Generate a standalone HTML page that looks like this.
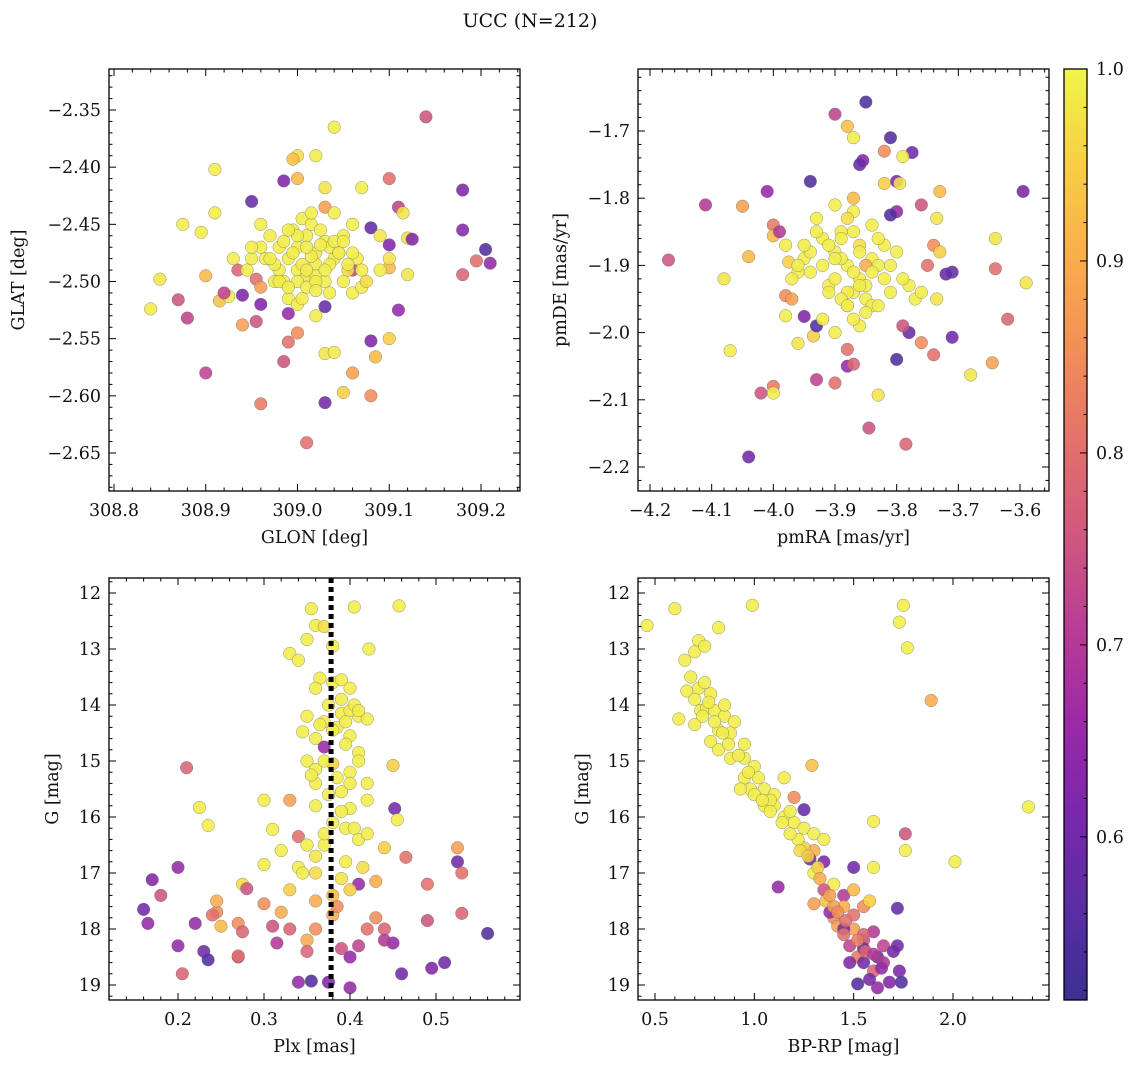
<!DOCTYPE html>
<html><head><meta charset="utf-8"><style>
body{margin:0;background:#fff;}
svg text{font-family:"DejaVu Serif","Liberation Serif",serif;fill:#111;}
</style></head><body>
<svg id="fig" width="1136" height="1068" viewBox="0 0 1136 1068" xmlns="http://www.w3.org/2000/svg">
<text x="530" y="27" font-size="19" text-anchor="middle">UCC (N=212)</text>
<defs>
<linearGradient id="cbg" x1="0" y1="1" x2="0" y2="0">
<stop offset="0" stop-color="#3b2f91"/><stop offset="0.1" stop-color="#5a2ea3"/><stop offset="0.2" stop-color="#7a27ab"/><stop offset="0.3" stop-color="#9b2aa6"/><stop offset="0.4" stop-color="#b93d94"/><stop offset="0.5" stop-color="#d0587e"/><stop offset="0.6" stop-color="#e3726a"/><stop offset="0.7" stop-color="#f28f58"/><stop offset="0.8" stop-color="#f9ae4b"/><stop offset="0.9" stop-color="#f8cf44"/><stop offset="1" stop-color="#eff54a"/>
</linearGradient>
</defs>
</svg>
<script>
// ---- data ----
const tlX=[309.04,309.14,308.91,309.0,308.995,309.02,309.0,308.985,309.03,309.07,309.1,309.18,308.95,309.03,309.11,309.115,308.91,308.875,308.96,309.06,309.08,309.09,309.12,309.125,309.18,308.895,309.205,309.21,309.195,309.18,309.12,309.1,309.1,309.1,308.85,308.87,308.84,308.88,308.9,308.915,308.925,308.92,308.935,308.94,308.955,308.96,308.96,308.955,308.94,308.9,308.96,308.985,308.99,309.0,309.01,309.03,309.05,309.06,309.08,309.085,309.08,309.1,309.11,309.03,309.04,309.02,309.03,308.99,309.06,309.05,309.07,309.06,
308.97,308.98,308.99,309.0,309.01,309.02,309.03,309.04,309.0,308.98,309.01,309.02,308.995,309.005,309.015,309.025,309.035,309.045,308.965,308.975,309.05,309.055,308.985,309.0,309.01,309.02,309.03,308.96,309.04,308.95,309.065,308.99,309.0,309.015,
308.975,308.985,308.995,309.005,309.015,309.025,309.035,308.98,308.99,309.0,309.01,309.02,309.03,309.045,309.055,308.97,309.06,309.07,309.075,308.95,308.945,309.035,309.005,308.99,309.04,309.02,309.01,309.05,309.09,308.93];
const tlY=[-2.365,-2.356,-2.402,-2.39,-2.393,-2.39,-2.41,-2.412,-2.418,-2.418,-2.41,-2.42,-2.43,-2.435,-2.435,-2.44,-2.44,-2.45,-2.45,-2.45,-2.453,-2.46,-2.462,-2.463,-2.455,-2.457,-2.472,-2.484,-2.482,-2.494,-2.494,-2.468,-2.488,-2.48,-2.498,-2.516,-2.524,-2.532,-2.495,-2.517,-2.513,-2.51,-2.49,-2.512,-2.498,-2.505,-2.52,-2.535,-2.538,-2.58,-2.607,-2.57,-2.553,-2.545,-2.641,-2.606,-2.597,-2.58,-2.6,-2.566,-2.552,-2.55,-2.525,-2.563,-2.562,-2.53,-2.522,-2.528,-2.51,-2.5,-2.505,-2.49,
-2.46,-2.47,-2.48,-2.47,-2.46,-2.475,-2.465,-2.48,-2.49,-2.49,-2.495,-2.485,-2.455,-2.445,-2.45,-2.455,-2.47,-2.475,-2.48,-2.5,-2.46,-2.49,-2.5,-2.5,-2.505,-2.495,-2.5,-2.47,-2.44,-2.48,-2.48,-2.515,-2.52,-2.44,
-2.485,-2.465,-2.475,-2.485,-2.478,-2.468,-2.485,-2.5,-2.505,-2.46,-2.49,-2.5,-2.49,-2.475,-2.485,-2.48,-2.475,-2.49,-2.5,-2.47,-2.49,-2.51,-2.515,-2.455,-2.465,-2.508,-2.47,-2.465,-2.49,-2.48];
const tlP=[.99,.75,.99,.97,.93,.99,.92,.62,.98,.99,.8,.62,.58,.88,.72,.98,.99,.99,.99,.99,.58,.98,.97,.62,.63,.99,.55,.65,.8,.78,.98,.62,.92,.98,.98,.75,.99,.72,.92,.93,.99,.72,.78,.62,.8,.88,.62,.75,.88,.72,.82,.75,.8,.85,.8,.6,.95,.88,.85,.92,.62,.95,.65,.98,.99,.99,.58,.65,.99,.99,.99,.72,
.99,.99,.99,.99,.99,.99,.99,.99,.99,.99,.98,.99,.99,.99,.99,.99,.99,.99,.99,.99,.99,.97,.99,.99,.99,.99,.99,.99,.99,.99,.99,.99,.99,.99,
.99,.99,.99,.99,.99,.99,.99,.99,.99,.99,.99,.99,.99,.99,.99,.99,.99,.99,.97,.99,.99,.99,.99,.99,.99,.99,.99,.99,.99,.99];

const trX=[-3.85,-3.9,-3.88,-3.87,-3.81,-3.82,-3.775,-3.79,-3.855,-3.86,-3.94,-3.8,-3.795,-3.82,-4.01,-4.11,-4.05,-3.73,-3.595,-3.8,-3.76,-3.81,-3.735,-3.87,-4.17,-4.08,-4.04,-4.0,-4.0,-3.99,-3.64,-3.64,-3.59,-3.71,-3.72,-3.75,-3.74,-3.73,-3.735,-3.62,-3.71,-3.74,-3.68,-3.645,-3.76,-3.78,-3.79,-3.8,-3.785,-3.83,-3.845,-3.88,-3.88,-3.87,-3.9,-3.93,-3.935,-3.96,-3.95,-3.93,-4.07,-4.0,-4.0,-4.02,-4.04,-3.98,-3.98,-3.97,-3.975,
-3.9,-3.88,-3.86,-3.84,-3.82,-3.92,-3.94,-3.87,-3.85,-3.83,-3.89,-3.91,-3.86,-3.84,-3.8,-3.78,-3.93,-3.95,-3.88,-3.86,-3.82,-3.9,-3.87,-3.85,-3.84,-3.96,-3.92,-3.81,-3.89,-3.77,
-3.91,-3.89,-3.87,-3.85,-3.88,-3.86,-3.9,-3.92,-3.94,-3.83,-3.81,-3.79,-3.87,-3.89,-3.85,-3.93,-3.95,-3.97,-3.91,-3.88,-3.86,-3.84,-3.9,-3.88,-3.76,-3.98,-3.96,-3.83,-3.87,-3.9];
const trY=[-1.657,-1.675,-1.693,-1.71,-1.71,-1.73,-1.732,-1.738,-1.744,-1.75,-1.775,-1.775,-1.778,-1.778,-1.79,-1.81,-1.812,-1.79,-1.79,-1.82,-1.81,-1.825,-1.83,-1.8,-1.892,-1.92,-1.887,-1.84,-1.856,-1.85,-1.86,-1.905,-1.926,-1.91,-1.913,-1.9,-1.87,-1.88,-1.95,-1.98,-2.007,-2.033,-2.063,-2.045,-2.015,-2.0,-1.99,-2.04,-2.166,-2.093,-2.142,-2.05,-2.025,-2.047,-2.075,-2.07,-2.005,-2.016,-1.976,-1.99,-2.027,-2.08,-2.09,-2.09,-2.185,-1.975,-1.945,-1.95,-1.895,
-1.88,-1.9,-1.92,-1.89,-1.87,-1.86,-1.91,-1.94,-1.95,-1.9,-1.85,-1.93,-1.87,-1.84,-1.88,-1.93,-1.83,-1.89,-1.96,-1.99,-1.92,-1.81,-1.82,-1.9,-1.96,-1.91,-1.98,-1.94,-1.86,-1.95,
-1.87,-1.89,-1.91,-1.93,-1.94,-1.88,-1.92,-1.9,-1.88,-1.86,-1.9,-1.92,-1.85,-1.95,-1.97,-1.85,-1.87,-1.92,-1.94,-1.96,-1.93,-1.91,-1.89,-1.83,-1.94,-1.87,-1.9,-1.96,-1.98,-2.0];
const trP=[.55,.72,.93,.99,.55,.85,.6,.99,.62,.58,.55,.62,.98,.95,.65,.7,.88,.92,.6,.65,.75,.55,.98,.92,.75,.98,.92,.82,.92,.7,.98,.8,.98,.58,.58,.8,.85,.95,.98,.78,.6,.8,.98,.88,.85,.58,.75,.55,.78,.98,.75,.65,.8,.78,.8,.72,.95,.98,.62,.55,.99,.82,.99,.75,.6,.99,.85,.88,.95,
.99,.99,.99,.99,.99,.99,.99,.99,.99,.99,.99,.99,.97,.99,.99,.99,.99,.99,.99,.99,.99,.99,.99,.9,.99,.99,.99,.99,.99,.99,
.99,.99,.99,.99,.99,.99,.99,.99,.99,.99,.99,.99,.99,.99,.99,.99,.99,.99,.99,.99,.99,.99,.99,.97,.99,.99,.99,.99,.99,.99];

const blX=[0.355,0.405,0.457,0.36,0.37,0.35,0.38,0.33,0.34,0.422,0.365,0.38,0.39,0.4,0.36,0.375,0.39,0.41,0.42,0.345,0.36,0.37,0.4,0.41,0.35,0.36,0.38,0.4,0.42,0.45,0.21,0.3,0.33,0.36,0.4,0.42,0.452,0.455,0.225,0.235,0.31,0.34,0.35,0.32,0.37,0.41,0.42,0.44,0.465,0.525,0.525,0.53,0.3,0.34,0.36,0.39,0.41,0.43,0.2,0.17,0.18,0.16,0.165,0.2,0.205,0.22,0.23,0.235,0.245,0.24,0.245,0.25,0.27,0.275,0.27,0.275,0.28,0.3,0.32,0.33,0.35,0.35,0.36,0.38,0.39,0.4,0.41,0.42,0.43,0.44,0.45,0.46,0.49,0.495,0.51,0.53,0.56,0.34,0.355,0.375,0.4,0.44,0.31,0.27,0.385,0.315,0.49,
0.39,0.4,0.37,0.385,0.395,0.405,0.36,0.375,0.39,0.41,0.38,0.395,
0.35,0.365,0.38,0.395,0.41,0.37,0.385,0.4,0.355,0.39,0.405,0.37,0.36,0.345,0.395,0.415,0.33,0.38,0.36,0.4];
const blY=[12.28,12.25,12.23,12.58,12.6,12.83,12.95,13.08,13.2,13.0,13.52,13.6,13.55,13.7,13.7,14.0,14.15,14.2,14.25,14.48,14.6,14.75,14.55,14.85,15.0,15.15,15.05,15.2,15.4,15.08,15.12,15.7,15.7,15.8,15.85,15.7,15.85,16.05,15.83,16.15,16.22,16.35,16.5,16.6,16.5,16.4,16.3,16.55,16.72,16.55,16.8,17.0,16.85,16.9,17.0,17.1,17.2,17.15,16.9,17.12,17.4,17.65,17.9,18.3,18.8,17.9,18.4,18.55,17.7,17.75,17.5,17.95,17.9,18.05,18.5,17.2,17.28,17.55,17.7,18.0,18.2,18.4,18.0,17.75,18.35,18.5,18.3,18.0,17.8,18.0,18.25,18.8,17.85,18.7,18.6,17.72,18.08,18.95,18.93,18.95,19.05,18.2,17.95,18.48,17.6,18.25,17.2,
13.9,14.1,14.3,14.4,14.7,14.0,15.4,15.6,15.55,15.0,16.1,16.2,
14.2,14.35,14.45,14.3,14.1,15.0,15.3,15.4,15.25,15.9,16.2,16.3,16.7,17.0,16.8,16.9,17.3,17.4,17.5,17.3];
const blP=[.99,.99,.99,.99,.97,.99,.99,.99,.99,.99,.99,.99,.99,.99,.99,.99,.99,.99,.99,.99,.99,.65,.99,.99,.99,.99,.95,.99,.99,.95,.78,.99,.88,.99,.99,.99,.6,.99,.99,.99,.99,.8,.99,.99,.99,.99,.99,.95,.8,.88,.6,.8,.99,.99,.97,.98,.65,.9,.65,.62,.75,.6,.65,.65,.78,.65,.6,.55,.85,.8,.9,.92,.85,.78,.75,.97,.75,.85,.9,.78,.9,.78,.85,.9,.75,.65,.72,.8,.85,.78,.65,.6,.75,.62,.6,.78,.55,.65,.55,.62,.65,.7,.75,.8,.85,.7,.8,
.99,.99,.99,.99,.99,.99,.99,.99,.99,.99,.99,.99,
.99,.99,.99,.99,.99,.99,.99,.99,.99,.99,.99,.99,.98,.99,.99,.97,.95,.92,.9,.95];

const brX=[0.46,0.6,0.99,1.75,1.73,1.77,0.72,0.7,0.75,0.82,0.65,0.68,0.66,0.72,0.75,0.78,0.62,0.7,0.73,0.76,0.8,0.85,0.9,0.82,0.78,0.82,0.88,0.95,0.95,1.0,0.95,0.98,0.93,1.02,1.05,1.1,1.15,1.2,1.29,1.6,1.89,2.38,2.01,1.76,1.76,1.05,1.1,1.15,1.2,1.25,1.25,1.3,1.35,1.3,1.28,1.25,1.35,1.12,1.3,1.4,1.35,1.3,1.5,1.45,1.45,1.4,1.42,1.5,1.5,1.55,1.6,1.58,1.55,1.52,1.55,1.6,1.62,1.65,1.7,1.72,1.72,1.73,1.74,1.68,1.62,1.52,1.6,1.55,1.48,1.45,1.38,1.48,1.65,1.58,1.5,1.36,
0.85,0.88,1.08,1.18,1.22,1.32,1.4,1.45,1.55,
0.7,0.74,0.77,0.8,0.84,0.87,0.92,0.97,1.0,1.04,1.08,1.14,1.18,1.23,1.27,1.33,1.38,1.42,1.46,1.52,1.56,1.6,1.64];
const brY=[12.58,12.28,12.22,12.22,12.52,12.98,12.85,13.05,12.95,12.62,13.2,13.5,13.75,13.7,13.6,13.8,14.25,14.35,14.1,14.05,14.1,14.2,14.3,14.45,14.65,14.8,14.95,14.7,14.95,15.1,15.3,15.5,15.5,15.3,15.5,15.6,15.3,15.65,15.08,16.08,13.92,15.82,16.8,16.3,16.6,15.8,15.8,16.0,16.1,16.2,15.87,16.3,16.4,16.6,16.75,16.55,16.8,17.25,17.0,17.2,17.3,17.55,16.9,17.4,17.6,17.8,17.95,17.75,18.0,17.6,16.9,17.5,18.2,18.5,18.35,18.05,18.5,18.3,18.4,18.3,17.63,18.75,18.95,18.95,19.05,18.98,18.75,18.6,18.3,18.0,17.7,18.6,18.6,18.9,17.3,17.5,
14.0,14.5,15.7,15.9,16.4,16.9,17.6,18.1,18.1,
13.9,14.2,13.95,14.3,14.5,14.7,14.9,15.2,15.6,15.7,15.9,16.1,16.3,16.6,16.7,17.1,17.4,17.7,17.85,18.2,18.4,18.45,18.7];
const brP=[.99,.99,.99,.99,.99,.99,.99,.99,.99,.99,.99,.99,.99,.99,.99,.99,.99,.99,.99,.99,.99,.99,.99,.99,.99,.99,.99,.99,.99,.99,.99,.99,.99,.99,.99,.99,.99,.85,.93,.99,.9,.99,.99,.75,.99,.99,.99,.99,.99,.99,.58,.99,.99,.9,.6,.95,.62,.65,.99,.99,.75,.88,.6,.7,.9,.85,.88,.8,.88,.85,.99,.95,.75,.82,.6,.7,.6,.72,.6,.6,.58,.62,.55,.62,.65,.55,.78,.6,.72,.62,.65,.62,.7,.6,.92,.93,
.99,.99,.99,.99,.99,.95,.88,.8,.78,
.99,.99,.99,.99,.99,.99,.99,.99,.99,.99,.99,.99,.99,.97,.95,.9,.88,.85,.8,.82,.78,.7,.65];

// ---- colormap ----
const stops=[[0,[59,47,145]],[.1,[90,46,163]],[.2,[122,39,171]],[.3,[155,42,166]],[.4,[185,61,148]],[.5,[208,88,126]],[.6,[227,114,106]],[.7,[242,143,88]],[.8,[249,174,75]],[.9,[248,207,68]],[1,[239,245,74]]];
const VMIN=0.515,VMAX=1.0;
function cmap(v){let t=Math.max(0,Math.min(1,(v-VMIN)/(VMAX-VMIN)));for(let i=1;i<stops.length;i++){if(t<=stops[i][0]){const a=stops[i-1],b=stops[i];const f=(t-a[0])/(b[0]-a[0]);const c=a[1].map((x,k)=>Math.round(x+(b[1][k]-x)*f));return `rgb(${c.join(',')})`;}}return 'rgb(239,245,74)';}

const NS='http://www.w3.org/2000/svg';
const svg=document.getElementById('fig');
const FS=17.5;
function mk(tag,attrs,parent){const e=document.createElementNS(NS,tag);for(const k in attrs)e.setAttribute(k,attrs[k]);(parent||svg).appendChild(e);return e;}
function fmt(v,d){const s=Math.abs(v).toFixed(d);return (v<0?'\u2212':'')+s;}

function panel(o){
  const g=mk('g',{});
  
  
  const sx=v=>o.x0+(v-o.xa)/(o.xb-o.xa)*(o.x1-o.x0);
  const sy=v=>o.y0+(v-o.ya)/(o.yb-o.ya)*(o.y1-o.y0);
  const clip='clip'+o.name;
  const cp=mk('clipPath',{id:clip},g);mk('rect',{x:o.L,y:o.T,width:o.R-o.L,height:o.B-o.T},cp);
  const pg=mk('g',{'clip-path':`url(#${clip})`},g);
  for(let i=0;i<o.X.length;i++){
    const c=mk('circle',{cx:sx(o.X[i]),cy:sy(o.Y[i]),r:6.3,fill:cmap(o.P[i]),'fill-opacity':0.88,stroke:'#666','stroke-width':0.5,'stroke-opacity':0.7},pg);
    
    
  }
  if(o.vline!==undefined){const l=mk('line',{x1:sx(o.vline),x2:sx(o.vline),y1:o.T,y2:o.B,stroke:'#000','stroke-width':5,'stroke-dasharray':'5,4'},pg);
    
    }
  mk('rect',{x:o.L,y:o.T,width:o.R-o.L,height:o.B-o.T,fill:'none',stroke:'#000','stroke-width':1.3},g);
  for(let k=Math.ceil((o.xlo)/o.xminor);k*o.xminor<=o.xhi+1e-9;k++){
    const v=k*o.xminor;const px=sx(v);if(px<o.L+0.5||px>o.R-0.5)continue;
    const major=Math.abs(v/o.xmajor-Math.round(v/o.xmajor))<1e-6;const len=major?7:3.5;
    mk('line',{x1:px,x2:px,y1:o.B,y2:o.B-len,stroke:'#000','stroke-width':1},g);
    mk('line',{x1:px,x2:px,y1:o.T,y2:o.T+len,stroke:'#000','stroke-width':1},g);
    if(major){const t=mk('text',{x:px,y:o.B+25,'font-size':FS,'text-anchor':'middle'},g);t.textContent=fmt(v,o.xd);
      }
  }
  for(let k=Math.ceil((o.ylo)/o.yminor);k*o.yminor<=o.yhi+1e-9;k++){
    const v=k*o.yminor;const py=sy(v);if(py<o.T+0.5||py>o.B-0.5)continue;
    const major=Math.abs(v/o.ymajor-Math.round(v/o.ymajor))<1e-6;const len=major?7:3.5;
    mk('line',{x1:o.L,x2:o.L+len,y1:py,y2:py,stroke:'#000','stroke-width':1},g);
    mk('line',{x1:o.R,x2:o.R-len,y1:py,y2:py,stroke:'#000','stroke-width':1},g);
    if(major){const t=mk('text',{x:o.L-8,y:py+6,'font-size':FS,'text-anchor':'end'},g);t.textContent=fmt(v,o.yd);
      }
  }
  const xl=mk('text',{x:(o.L+o.R)/2,y:o.B+52,'font-size':FS,'text-anchor':'middle'},g);xl.textContent=o.xlabel;
  
  const yx=o.ylx,yy=(o.T+o.B)/2;
  const yl=mk('text',{x:yx,y:yy,'font-size':FS,'text-anchor':'middle',transform:`rotate(-90 ${yx} ${yy})`},g);yl.textContent=o.ylabel;
  
}

panel({name:'glon-glat-panel',X:tlX,Y:tlY,P:tlP,L:109,R:520,T:69,B:491,xa:308.8,xb:309.2,x0:114,x1:481,ya:-2.35,yb:-2.65,y0:110,y1:453,
  xlo:308.7,xhi:309.3,xminor:0.02,xmajor:0.1,xd:1,ylo:-2.7,yhi:-2.3,yminor:0.01,ymajor:0.05,yd:2,xlabel:'GLON [deg]',ylabel:'GLAT [deg]',ylx:24});
panel({name:'pm-panel',X:trX,Y:trY,P:trP,L:638,R:1049,T:69,B:491,xa:-4.2,xb:-3.6,x0:650,x1:1020,ya:-1.7,yb:-2.2,y0:131,y1:467,
  xlo:-4.3,xhi:-3.5,xminor:0.02,xmajor:0.1,xd:1,ylo:-2.3,yhi:-1.6,yminor:0.02,ymajor:0.1,yd:1,xlabel:'pmRA [mas/yr]',ylabel:'pmDE [mas/yr]',ylx:566});
panel({name:'plx-g-panel',X:blX,Y:blY,P:blP,L:109,R:520,T:578,B:1000,xa:0.2,xb:0.5,x0:178,x1:436,ya:12,yb:19,y0:593,y1:985,
  xlo:0.1,xhi:0.6,xminor:0.02,xmajor:0.1,xd:1,ylo:11,yhi:20,yminor:0.2,ymajor:1,yd:0,xlabel:'Plx [mas]',ylabel:'G [mag]',ylx:58,vline:0.378});
panel({name:'cmd-panel',X:brX,Y:brY,P:brP,L:638,R:1049,T:578,B:1000,xa:0.5,xb:2.0,x0:655,x1:953,ya:12,yb:19,y0:593,y1:985,
  xlo:0.3,xhi:2.6,xminor:0.1,xmajor:0.5,xd:1,ylo:11,yhi:20,yminor:0.2,ymajor:1,yd:0,xlabel:'BP-RP [mag]',ylabel:'G [mag]',ylx:588});

const cb=mk('g',{});


const CT=69,CB=1000;
const cy=v=>CT+(VMAX-v)/(VMAX-VMIN)*(CB-CT);
mk('rect',{x:1064,y:CT,width:23,height:CB-CT,fill:'url(#cbg)',stroke:'#000','stroke-width':1.3},cb);
for(let k=26;k<=50;k++){const v=k*0.02;const py=cy(v);if(py<CT||py>CB)continue;const major=(k%5===0);
  mk('line',{x1:1087,x2:1087-(major?7:3.5),y1:py,y2:py,stroke:'#000','stroke-width':1},cb);
  if(major){const t=mk('text',{x:1096,y:py+6,'font-size':FS},cb);t.textContent=v.toFixed(1);
    }}
</script>
</body></html>
